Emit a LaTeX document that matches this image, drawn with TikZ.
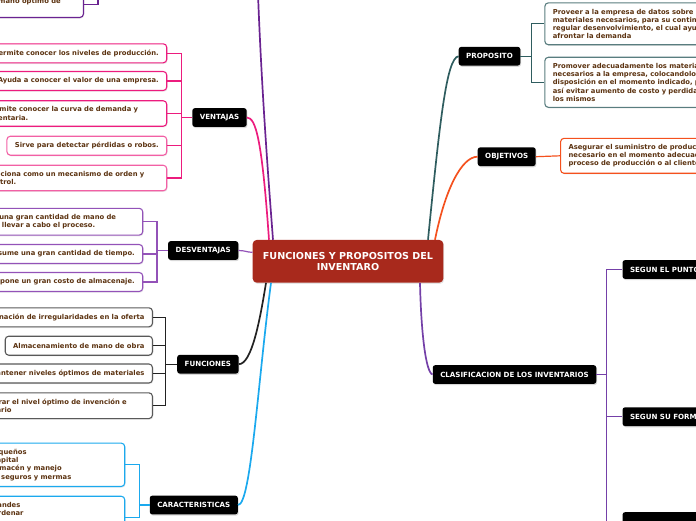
\documentclass[tikz,border=0pt]{standalone}
\usepackage{fontspec}
\setmainfont{DejaVu Sans}
\usetikzlibrary{shadows}

\definecolor{rootred}{HTML}{A8291C}
\definecolor{leaftext}{HTML}{5C3311}
\definecolor{plumc}{HTML}{6A2391}
\definecolor{pinkc}{HTML}{EC1C7E}
\definecolor{lilac}{HTML}{9352B8}
\definecolor{inkc}{HTML}{222222}
\definecolor{skyc}{HTML}{1BA9EE}
\definecolor{tealc}{HTML}{2F5D5F}
\definecolor{flame}{HTML}{F4511E}
\definecolor{violetc}{HTML}{7440A8}

\newcommand\fullline[1]{\makebox[172pt][s]{#1}}

\tikzset{
  hub/.style={fill=black,text=white,rounded corners=2.5pt,inner xsep=7.5pt,inner ysep=0pt,
    minimum height=18.7pt,font=\fontsize{7.1}{8}\selectfont\bfseries,
    drop shadow={shadow xshift=.8pt,shadow yshift=-1.2pt,fill=black!30}},
  leaf/.style={draw,fill=white,line width=1.1pt,rounded corners=3.5pt,text=leaftext,
    align=left,inner xsep=8pt,inner ysep=6pt,minimum height=19pt,
    font=\fontsize{6.8}{8.2}\selectfont\bfseries,
    drop shadow={shadow xshift=.8pt,shadow yshift=-1.2pt,fill=black!15}},
  wide/.style={text width=172.2pt},
  twig/.style={line width=1.2pt},
  bough/.style={line width=1.7pt}
}

\begin{document}
\begin{tikzpicture}[x=1pt,y=-1pt]
  \useasboundingbox (0,0) rectangle (696,520);
  \clip (0,0) rectangle (696,520);

  \node[fill=rootred,text=white,rounded corners=4pt,minimum width=190.6pt,minimum height=42.7pt,
    align=center,font=\fontsize{9.6}{11}\selectfont\bfseries,
    drop shadow={shadow xshift=.8pt,shadow yshift=-1.2pt,fill=black!20}] (root) at (348,261.3)
    {FUNCIONES Y PROPOSITOS DEL\\INVENTARO};

  \node[leaf,draw=plumc,anchor=south east] (top1) at (84,18) {Permite determinar el\\tamaño óptimo de\\\mbox{}};
  \coordinate (topfork) at (98,-12);
  \draw[twig,plumc] ([yshift=-4pt]top1.east) -| (topfork);

  \node[hub] (vent) at (219.5,117.5) {VENTAJAS};
  \node[leaf,draw=pinkc,anchor=east] (vent1) at (167.3,53.3) {Permite conocer los niveles de producción.};
  \node[leaf,draw=pinkc,anchor=east] (vent2) at (167.3,81) {Ayuda a conocer el valor de una empresa.};
  \node[leaf,draw=pinkc,anchor=east,wide] (vent3) at (167.3,113.5) {Permite conocer la curva de demanda y\\inventaria.};
  \node[leaf,draw=pinkc!70,anchor=east] (vent4) at (167.3,145.7) {Sirve para detectar pérdidas o robos.};
  \node[leaf,draw=pinkc!70,anchor=east,wide] (vent5) at (167.3,178) {Funciona como un mecanismo de orden y\\control.};
  \foreach \i in {1,...,5}{\draw[twig,pinkc] (vent.west) -- ++(-11,0) |- (vent\i.east);}

  \node[hub] (desv) at (203.2,250.5) {DESVENTAJAS};
  \node[leaf,draw=lilac,anchor=east,wide] (desv1) at (143.3,221.7) {Requiere una gran cantidad de mano de\\obra para llevar a cabo el proceso.};
  \node[leaf,draw=lilac,anchor=east] (desv2) at (143.3,254) {Consume una gran cantidad de tiempo.};
  \node[leaf,draw=lilac,anchor=east] (desv3) at (143.3,282) {Supone un gran costo de almacenaje.};
  \foreach \i in {1,2,3}{\draw[twig,lilac] (desv.west) -- ++(-11,0) |- (desv\i.east);}

  \node[hub] (func) at (207.9,364.2) {FUNCIONES};
  \node[leaf,draw=black!65,anchor=east] (func1) at (153,317.3) {Eliminación de irregularidades en la oferta};
  \node[leaf,draw=black!65,anchor=east] (func2) at (153,345.7) {Almacenamiento de mano de obra};
  \node[leaf,draw=black!65,anchor=east] (func3) at (153,373.5) {Mantener niveles óptimos de materiales};
  \node[leaf,draw=black!65,anchor=east,wide] (func4) at (153,405.7) {Encontrar el nivel óptimo de invención e\\inventario};
  \foreach \i in {1,...,4}{\draw[twig,inkc] (func.west) -- ++(-11.4,0) |- (func\i.east);}

  \node[hub] (cara) at (193.8,505) {CARACTERISTICAS};
  \node[leaf,draw=skyc,anchor=east,text width=150.7pt] (cara1) at (125.3,464.8)
    {Lotes pequeños\\Menor capital\\Menor almacén y manejo\\Menores seguros y mermas};
  \node[leaf,draw=skyc,anchor=north east,text width=150.7pt] (cara2) at (125.3,495.7)
    {Lotes grandes\\Menos ordenar\\\mbox{}\\\mbox{}};
  \foreach \i in {1,2}{\draw[twig,skyc] (cara.west) -- ++(-10,0) |- (cara\i.east);}

  \node[hub] (prop) at (489.5,56.2) {PROPOSITO};
  \node[leaf,draw=tealc!80,anchor=west,text width=172pt] (prop1) at (544.3,23.8)
    {\fullline{Proveer a la empresa de datos sobre los}\\\fullline{materiales necesarios, para su continuo y}\\
     \fullline{regular desenvolvimiento, el cual ayudará a}\\afrontar la demanda};
  \node[leaf,draw=tealc!80,anchor=west,text width=172pt] (prop2) at (544.3,82.3)
    {\fullline{Promover adecuadamente los materiales}\\\fullline{necesarios a la empresa, colocandolos a su}\\
     \fullline{disposición en el momento indicado, para}\\\fullline{así evitar aumento de costo y perdidas de}\\los mismos};
  \foreach \i in {1,2}{\draw[twig,tealc] (prop.east) -- ++(11,0) |- (prop\i.west);}

  \node[hub] (obje) at (506.7,156.7) {OBJETIVOS};
  \node[leaf,draw=flame,anchor=west,text width=172pt] (obje1) at (560,155.8)
    {Asegurar el suministro de productos\\necesario en el momento adecuado al\\proceso de producción o al cliente.};
  \draw[twig,flame] (obje.east) -- (obje1.west);

  \node[hub] (clas) at (514.5,374.5) {CLASIFICACION DE LOS INVENTARIOS};
  \node[hub,anchor=west] (clas1) at (622.3,269.5) {SEGUN EL PUNTO DE VISTA};
  \node[hub,anchor=west] (clas2) at (622.3,416.7) {SEGUN SU FORMA};
  \node[hub,anchor=north west,minimum width=90pt] (clas3) at (622.3,512) {};
  \foreach \i in {1,2,3}{\draw[twig,violetc] (clas.east) -- ++(10.3,0) |- (clas\i.west);}

  \coordinate (upper) at (258,-6);
  \draw[bough,plumc] ([xshift=-75pt]root.north) .. controls +(-3,-40) and +(4,106) .. (upper);
  \draw[bough,pinkc] (vent.east) .. controls +(9,0) and +(-7,-100) .. ([xshift=-79pt]root.north);
  \draw[twig,lilac] (desv.east) .. controls +(7,0) and +(-6,0) .. ([yshift=9pt]root.west);
  \draw[bough,inkc] (func.east) .. controls +(13,0) and +(-6,37) .. ([xshift=-82pt]root.south);
  \draw[bough,skyc] (cara.east) .. controls +(13,0) and +(-13,97) .. ([xshift=-77pt]root.south);
  \draw[bough,tealc] (prop.west) .. controls +(-12,2) and +(12,-120) .. ([xshift=80pt]root.north);
  \draw[bough,flame] (obje.west) .. controls +(-16,0) and +(10,-50) .. ([xshift=87pt]root.north);
  \draw[bough,violetc] ([xshift=72pt]root.south) .. controls +(1,47) and +(-7,-2) .. (clas.west);
\end{tikzpicture}
\end{document}
